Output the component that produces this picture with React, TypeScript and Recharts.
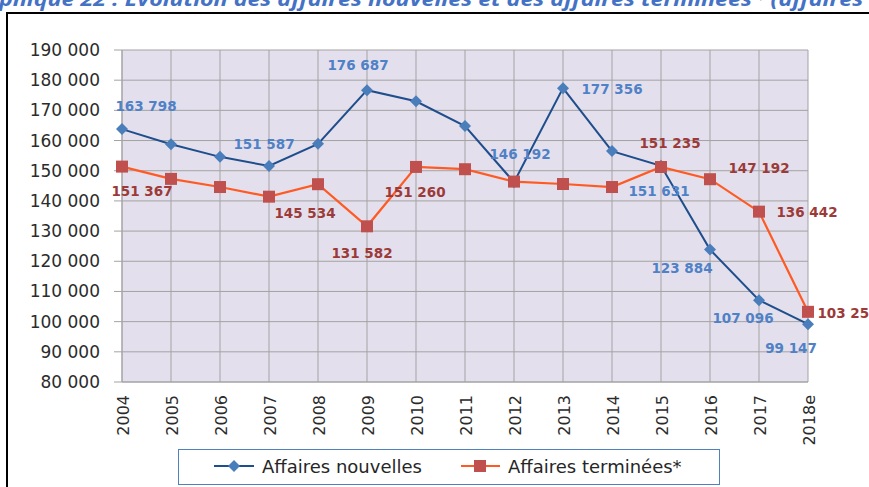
import React from 'react';
import { LineChart, Line, XAxis, YAxis, CartesianGrid, LabelList, Legend } from 'recharts';

const years = ['2004', '2005', '2006', '2007', '2008', '2009', '2010', '2011', '2012', '2013', '2014', '2015', '2016', '2017', '2018e'];
const affairesNouvelles = [163798, 158800, 154600, 151587, 158900, 176687, 173000, 164800, 146192, 177356, 156500, 151631, 123884, 107096, 99147];
const affairesTerminees = [151367, 147300, 144600, 141400, 145534, 131582, 151260, 150500, 146400, 145600, 144600, 151235, 147192, 136442, 103250];
const yTicks = [80000, 90000, 100000, 110000, 120000, 130000, 140000, 150000, 160000, 170000, 180000, 190000];

// label placement (offset from point) for the points that carry a value label
const labelPosNouvelles: (number[] | null)[] = [[24, -23], null, null, [-5, -22], null, [-9, -25], null, null, [6, -28], [49, 1], null, [-2, 25], [-28, 18], [-16, 18], [-17, 24]];
const labelPosTerminees: (number[] | null)[] = [[20, 24], null, null, null, [-13, 29], [-5, 27], [-1, 25], null, null, null, null, [9, -24], [49, -11], [48, 0], [40, 1]];

const data = years.map((y, i) => ({ year: y, nouvelles: affairesNouvelles[i], terminees: affairesTerminees[i] }));

const fmt = (v: any) => String(v).replace(/\B(?=(\d{3})+(?!\d))/g, '\u00a0');

const FONT = '"DejaVu Sans", sans-serif';

const makeLabel = (pos: (number[] | null)[], color: string) => (props: any) => {
  const { index, value } = props;
  const px = props.x ?? props.viewBox?.x;
  const py = props.y ?? props.viewBox?.y;
  const off = pos[index];
  if (!off || px == null || py == null) return null;
  return (
    <text key={`l${index}`} x={px + off[0]} y={py + off[1]} textAnchor="middle" dominantBaseline="central" fill={color} fontFamily={FONT} fontWeight="bold" fontSize={13.5}>
      {fmt(value)}
    </text>
  );
};

const DiamondDot = (props: any) => {
  const { cx, cy, index } = props;
  if (cx == null || cy == null) return <g key={`d${index}`} />;
  const r = 6;
  return <path key={`d${index}`} d={`M${cx},${cy - r}L${cx + r},${cy}L${cx},${cy + r}L${cx - r},${cy}Z`} fill="#4a7ebb" />;
};

const SquareDot = (props: any) => {
  const { cx, cy, index } = props;
  if (cx == null || cy == null) return <g key={`s${index}`} />;
  const s = 12;
  return <rect key={`s${index}`} x={cx - s / 2} y={cy - s / 2} width={s} height={s} fill="#c0504d" />;
};

const XTick = (props: any) => {
  const { x, y, payload } = props;
  return (
    <text x={x + 1} y={y} transform={`rotate(-90, ${x + 1}, ${y})`} textAnchor="end" dominantBaseline="central" fill="#2b2b2b" fontFamily={FONT} fontSize={16}>
      {payload.value}
    </text>
  );
};

const LegendBox = () => (
  <div style={{ width: 542, height: 36, boxSizing: 'border-box', border: '1.5px solid #4f81bd', background: '#fff' }}>
    <svg width={539} height={33} style={{ display: 'block' }}>
      <line x1={35} y1={16} x2={75} y2={16} stroke="#1f4e8c" strokeWidth={2} />
      <path d="M55,10L61,16L55,22L49,16Z" fill="#4a7ebb" />
      <text x={83} y={16} dominantBaseline="central" fontFamily={FONT} fontSize={18} fill="#262626">Affaires nouvelles</text>
      <line x1={282} y1={16} x2={321} y2={16} stroke="#ff5a24" strokeWidth={2} />
      <rect x={295} y={10} width={12} height={12} fill="#c0504d" />
      <text x={329} y={16} dominantBaseline="central" fontFamily={FONT} fontSize={18} fill="#262626">Affaires terminées*</text>
    </svg>
  </div>
);

export default function App() {
  return (
    <div style={{ position: 'fixed', left: 0, top: 0, width: 869, height: 487, overflow: 'hidden', background: '#fff' }}>
      <div style={{ position: 'absolute', left: 6, top: 12, width: 2, height: 480, background: '#000' }} />
      <div style={{ position: 'absolute', left: 6, top: 12, width: 870, height: 2, background: '#000' }} />
      <div style={{ position: 'absolute', left: 0, top: 0, width: 869, height: 487 }}>
        <LineChart width={869} height={487} data={data} margin={{ top: 50, right: 61, left: 0, bottom: 45 }}>
          <CartesianGrid stroke="#a3a3a3" fill="#e4dfec" fillOpacity={1} horizontal vertical />
          <XAxis dataKey="year" scale="point" padding={{ left: 0, right: 0 }} height={60} tickLine={false} tickSize={0} tickMargin={13} interval={0} axisLine={{ stroke: '#a3a3a3' }} tick={<XTick />} />
          <YAxis width={122} domain={[80000, 190000]} ticks={yTicks} interval={0} tickFormatter={fmt} tickSize={8} tickMargin={14} tickLine={{ stroke: '#a3a3a3' }} axisLine={{ stroke: '#a3a3a3' }} tick={{ fontFamily: FONT, fontSize: 17, fill: '#2b2b2b' }} />
          <Legend layout="horizontal" verticalAlign="middle" align="center" wrapperStyle={{ position: 'absolute', left: 178, top: 449, width: 542, height: 36, margin: 0 }} content={() => <LegendBox />} />
          <Line type="linear" dataKey="nouvelles" stroke="#1f4e8c" strokeWidth={2} dot={DiamondDot} activeDot={false} isAnimationActive={false}>
            <LabelList dataKey="nouvelles" content={makeLabel(labelPosNouvelles, '#4f81c7')} />
          </Line>
          <Line type="linear" dataKey="terminees" stroke="#ff5a24" strokeWidth={2.2} dot={SquareDot} activeDot={false} isAnimationActive={false}>
            <LabelList dataKey="terminees" content={makeLabel(labelPosTerminees, '#9b3a38')} />
          </Line>
        </LineChart>
      </div>
      <div style={{ position: 'absolute', left: -1, top: -11, width: 1000, whiteSpace: 'nowrap', fontFamily: '"Open Sans", sans-serif', fontWeight: 700, fontStyle: 'italic', fontSize: 20, lineHeight: '20px', color: '#4472c4', transform: 'scaleX(1.16)', transformOrigin: '0 0' }}>
        phique 22 : Évolution des affaires nouvelles et des affaires terminées* (affaires
      </div>
    </div>
  );
}
